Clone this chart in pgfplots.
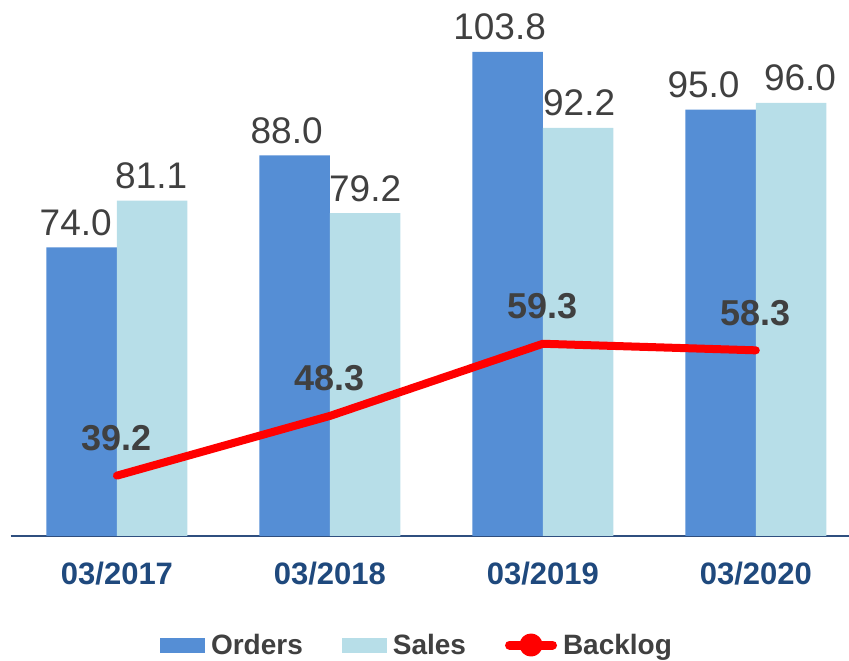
\documentclass[border=0pt]{standalone}
\usepackage{pgfplots}
\pgfplotsset{compat=1.18}
\usepackage{pgfplotstable}
\usepackage{fontspec}
\setmainfont{Liberation Sans}
\definecolor{orders}{HTML}{558ED5}
\definecolor{sales}{HTML}{B7DEE8}
\definecolor{lbl}{HTML}{404040}
\definecolor{cat}{HTML}{1F497D}
\definecolor{axisc}{HTML}{2F4F7F}

\pgfplotstableread{
x y dx lab
0 74.0 -6 74.0
1 88.0 -8 88.0
2 103.8 -8 103.8
3 95.0 -17 95.0
}\orders
\pgfplotstableread{
x y dx lab
0 81.1 -1 81.1
1 79.2 0 79.2
2 92.2 1 92.2
3 96.0 9 96.0
}\sales
\pgfplotstableread{
x y lab
0 39.2 39.2
1 48.3 48.3
2 59.3 59.3
3 58.3 58.3
}\backlog

\begin{document}
\begin{tikzpicture}
\useasboundingbox (0,0) rectangle (849pt,661pt);
\begin{axis}[
  at={(10.5pt,125pt)}, anchor=south west,
  scale only axis, width=839pt, height=536pt,
  xmin=-0.5, xmax=3.44, ymin=30, ymax=111.7,
  axis x line*=bottom, axis y line=none,
  axis line style={axisc, line width=1.7pt, -},
  xtick={0,1,2,3},
  xticklabels={03/2017,03/2018,03/2019,03/2020},
  major tick length=0pt,
  xticklabel style={anchor=base, yshift=-49pt, font=\fontsize{31}{31}\selectfont\bfseries, text=cat, inner sep=0pt},
  ytick=\empty,
  legend columns=3,
  legend style={at={(0.178,-0.2034)}, anchor=west, draw=none, fill=none, inner sep=0pt,
    font=\fontsize{28}{28}\selectfont\bfseries, text=lbl,
    nodes={inner sep=0pt},
    /tikz/every odd column/.append style={column sep=6pt},
    /tikz/every even column/.append style={column sep=39pt},
    /tikz/column 5/.append style={column sep=0.5pt}},
]
\addplot[ybar, bar width=70.5pt, bar shift=-35.25pt, fill=orders, draw=none,
  point meta=explicit symbolic,
  visualization depends on={\thisrow{dx} \as \dx},
  nodes near coords,
  every node near coord/.append style={font=\fontsize{37}{37}\selectfont, text=lbl, anchor=base, yshift=12pt, xshift=(\dx-35.25)*1pt, inner sep=0pt},
  legend image code/.code={\fill[orders] (0pt,-7.5pt) rectangle (45pt,7.5pt);}
] table[meta=lab] {\orders};
\addlegendentry{Orders}
\addplot[ybar, bar width=70.5pt, bar shift=35.25pt, fill=sales, draw=none,
  point meta=explicit symbolic,
  visualization depends on={\thisrow{dx} \as \dx},
  nodes near coords,
  every node near coord/.append style={font=\fontsize{37}{37}\selectfont, text=lbl, anchor=base, yshift=12pt, xshift=(\dx+35.25)*1pt, inner sep=0pt},
  legend image code/.code={\fill[sales] (0pt,-7.5pt) rectangle (45pt,7.5pt);}
] table[meta=lab] {\sales};
\addlegendentry{Sales}
\addplot[red, line width=8pt, line cap=round, line join=round, mark=none,
  point meta=explicit symbolic,
  nodes near coords,
  every node near coord/.append style={font=\fontsize{36}{36}\selectfont\bfseries, text=lbl, anchor=base, yshift=25pt, inner sep=0pt},
  legend image code/.code={\path[draw=none, fill=none] (0pt,-8pt) rectangle (52pt,8pt); \draw[red, line width=9pt, line cap=round] (4.5pt,0pt) -- (47.5pt,0pt); \fill[red] (26pt,0pt) circle (7.5pt);}
] table[meta=lab] {\backlog};
\addlegendentry{Backlog}
\end{axis}
\end{tikzpicture}
\end{document}
